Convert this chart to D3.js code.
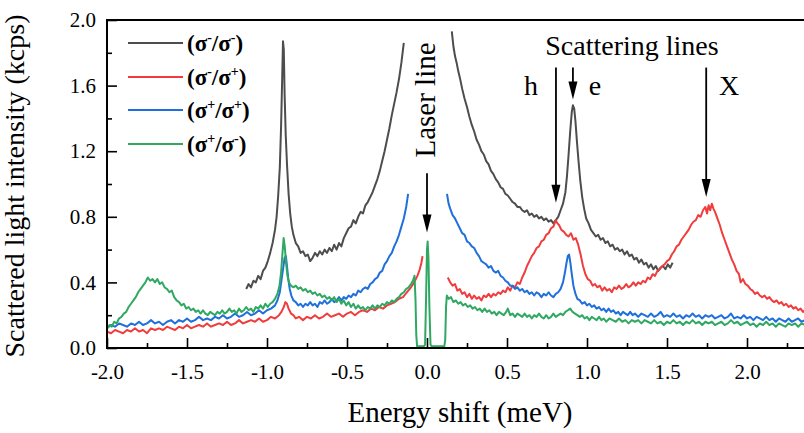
<!DOCTYPE html>
<html>
<head>
<meta charset="utf-8">
<script src="https://cdn.jsdelivr.net/npm/d3@7"></script>
<style>
  html, body { margin: 0; padding: 0; background: #fff; }
  svg { display: block; }
  text { font-family: "Liberation Serif", "Times New Roman", Times, serif; fill: #000; }
</style>
</head>
<body>
<svg id="chart" width="804" height="433"></svg>
<script>
// ---- spectra: [energy shift (meV), intensity (kcps)] ----
const grayLeft = [
  [-1.130,0.36],[-1.115,0.39],[-1.100,0.37],[-1.085,0.41],[-1.070,0.40],[-1.055,0.44],[-1.040,0.42],[-1.025,0.47],
  [-1.010,0.49],[-0.995,0.53],[-0.980,0.58],[-0.965,0.64],[-0.950,0.72],[-0.940,0.80],[-0.930,0.93],[-0.920,1.10],
  [-0.912,1.35],[-0.905,1.65],[-0.900,1.87],[-0.895,1.82],[-0.890,1.55],[-0.883,1.30],[-0.875,1.12],[-0.865,0.94],
  [-0.855,0.82],[-0.845,0.74],[-0.835,0.69],[-0.820,0.64],[-0.805,0.62],[-0.790,0.58],[-0.775,0.59],[-0.760,0.56],
  [-0.745,0.57],[-0.730,0.53],[-0.715,0.55],[-0.700,0.58],[-0.685,0.56],[-0.670,0.59],[-0.655,0.57],[-0.640,0.60],
  [-0.625,0.58],[-0.610,0.61],[-0.595,0.59],[-0.580,0.63],[-0.565,0.60],[-0.550,0.64],[-0.535,0.62],[-0.520,0.67],
  [-0.505,0.70],[-0.490,0.73],[-0.475,0.74],[-0.460,0.78],[-0.445,0.76],[-0.430,0.80],[-0.415,0.83],[-0.400,0.82],
  [-0.385,0.87],[-0.370,0.89],[-0.355,0.92],[-0.340,0.95],[-0.325,0.99],[-0.310,1.03],[-0.295,1.08],[-0.280,1.14],
  [-0.265,1.20],[-0.250,1.27],[-0.235,1.34],[-0.220,1.42],[-0.205,1.49],[-0.190,1.56],[-0.175,1.64],[-0.160,1.74],
  [-0.145,1.86]
];
const grayRight = [
  [0.155,1.93],[0.165,1.84],[0.175,1.78],[0.185,1.74],[0.195,1.69],[0.205,1.65],[0.220,1.58],[0.235,1.52],
  [0.250,1.47],[0.265,1.41],[0.280,1.36],[0.295,1.32],[0.310,1.27],[0.325,1.24],[0.340,1.20],[0.355,1.18],
  [0.370,1.14],[0.385,1.12],[0.400,1.08],[0.415,1.06],[0.430,1.03],[0.445,1.01],[0.460,0.98],[0.475,0.97],
  [0.490,0.94],[0.505,0.93],[0.520,0.91],[0.535,0.89],[0.550,0.88],[0.565,0.86],[0.580,0.86],[0.595,0.84],
  [0.610,0.83],[0.625,0.84],[0.640,0.81],[0.655,0.82],[0.670,0.80],[0.685,0.81],[0.700,0.79],[0.715,0.80],
  [0.730,0.78],[0.745,0.79],[0.760,0.77],[0.775,0.78],[0.790,0.76],[0.805,0.78],[0.820,0.80],[0.835,0.84],
  [0.850,0.88],[0.865,0.95],[0.875,1.05],[0.885,1.18],[0.895,1.32],[0.905,1.44],[0.912,1.48],[0.920,1.46],
  [0.928,1.38],[0.937,1.26],[0.947,1.14],[0.958,1.02],[0.970,0.92],[0.982,0.85],[0.995,0.79],[1.010,0.76],
  [1.025,0.72],[1.040,0.70],[1.055,0.68],[1.070,0.69],[1.085,0.66],[1.100,0.67],[1.115,0.64],[1.130,0.65],
  [1.145,0.62],[1.160,0.63],[1.175,0.60],[1.190,0.61],[1.205,0.59],[1.220,0.60],[1.235,0.57],[1.250,0.59],
  [1.265,0.56],[1.280,0.57],[1.295,0.54],[1.310,0.55],[1.325,0.52],[1.340,0.54],[1.355,0.51],[1.370,0.52],
  [1.385,0.49],[1.400,0.51],[1.415,0.48],[1.430,0.50],[1.445,0.47],[1.460,0.49],[1.475,0.50],[1.490,0.48],
  [1.505,0.51],[1.520,0.49],[1.535,0.52]
];
const redLeft = [
  [-2.000,0.10],[-1.975,0.09],[-1.950,0.11],[-1.925,0.10],[-1.900,0.09],[-1.875,0.11],[-1.850,0.10],[-1.825,0.12],
  [-1.800,0.10],[-1.775,0.11],[-1.750,0.09],[-1.725,0.12],[-1.700,0.11],[-1.675,0.12],[-1.650,0.11],[-1.625,0.13],
  [-1.600,0.12],[-1.575,0.11],[-1.550,0.13],[-1.525,0.12],[-1.500,0.14],[-1.475,0.12],[-1.450,0.13],[-1.425,0.14],
  [-1.400,0.13],[-1.375,0.15],[-1.350,0.13],[-1.325,0.14],[-1.300,0.15],[-1.275,0.14],[-1.250,0.16],[-1.225,0.14],
  [-1.200,0.15],[-1.175,0.17],[-1.150,0.15],[-1.125,0.16],[-1.100,0.17],[-1.075,0.16],[-1.050,0.18],[-1.025,0.16],
  [-1.000,0.17],[-0.975,0.19],[-0.950,0.18],[-0.925,0.20],[-0.910,0.22],[-0.895,0.25],[-0.885,0.28],[-0.875,0.27],
  [-0.865,0.24],[-0.850,0.21],[-0.835,0.20],[-0.820,0.18],[-0.800,0.19],[-0.775,0.17],[-0.750,0.19],[-0.725,0.18],
  [-0.700,0.20],[-0.675,0.18],[-0.650,0.19],[-0.625,0.21],[-0.600,0.19],[-0.575,0.20],[-0.550,0.21],[-0.525,0.19],
  [-0.500,0.21],[-0.475,0.22],[-0.450,0.20],[-0.425,0.22],[-0.400,0.23],[-0.375,0.22],[-0.350,0.24],[-0.325,0.23],
  [-0.300,0.25],[-0.275,0.24],[-0.250,0.26],[-0.225,0.27],[-0.200,0.28],[-0.175,0.30],[-0.150,0.31],[-0.125,0.34],
  [-0.100,0.37],[-0.080,0.40],[-0.060,0.44],[-0.045,0.48],[-0.035,0.52],[-0.028,0.56]
];
const redRight = [
  [0.130,0.43],[0.145,0.40],[0.160,0.38],[0.175,0.39],[0.190,0.35],[0.205,0.36],[0.220,0.33],[0.235,0.34],
  [0.250,0.31],[0.265,0.33],[0.280,0.30],[0.295,0.32],[0.310,0.30],[0.325,0.31],[0.340,0.29],[0.355,0.32],
  [0.370,0.31],[0.385,0.33],[0.400,0.31],[0.415,0.33],[0.430,0.32],[0.445,0.34],[0.460,0.33],[0.475,0.35],
  [0.490,0.34],[0.505,0.37],[0.520,0.35],[0.535,0.38],[0.550,0.37],[0.565,0.40],[0.580,0.39],[0.595,0.43],
  [0.610,0.46],[0.625,0.50],[0.640,0.53],[0.655,0.56],[0.670,0.58],[0.685,0.61],[0.700,0.62],[0.715,0.65],
  [0.730,0.66],[0.745,0.69],[0.760,0.70],[0.775,0.73],[0.790,0.74],[0.805,0.78],[0.815,0.76],[0.825,0.75],
  [0.840,0.72],[0.855,0.71],[0.870,0.69],[0.885,0.68],[0.900,0.70],[0.915,0.66],[0.930,0.67],[0.945,0.63],
  [0.960,0.57],[0.975,0.50],[0.990,0.45],[1.005,0.42],[1.020,0.41],[1.035,0.38],[1.050,0.39],[1.065,0.37],
  [1.080,0.38],[1.095,0.35],[1.110,0.37],[1.125,0.35],[1.140,0.36],[1.155,0.34],[1.170,0.37],[1.185,0.36],
  [1.200,0.38],[1.215,0.36],[1.230,0.37],[1.245,0.39],[1.260,0.37],[1.275,0.38],[1.290,0.40],[1.305,0.38],
  [1.320,0.40],[1.335,0.39],[1.350,0.41],[1.365,0.40],[1.380,0.43],[1.395,0.42],[1.410,0.45],[1.425,0.44],
  [1.440,0.47],[1.455,0.48],[1.470,0.50],[1.485,0.51],[1.500,0.53],[1.515,0.54],[1.530,0.57],[1.545,0.59],
  [1.560,0.62],[1.575,0.63],[1.590,0.66],[1.605,0.68],[1.620,0.70],[1.635,0.72],[1.650,0.75],[1.665,0.77],
  [1.680,0.78],[1.695,0.81],[1.710,0.80],[1.725,0.84],[1.740,0.86],[1.750,0.82],[1.760,0.87],[1.770,0.84],
  [1.780,0.88],[1.790,0.85],[1.800,0.83],[1.815,0.79],[1.830,0.75],[1.845,0.70],[1.860,0.66],[1.875,0.62],
  [1.890,0.58],[1.905,0.54],[1.920,0.51],[1.935,0.47],[1.950,0.45],[1.960,0.40],[1.975,0.42],[1.990,0.39],
  [2.005,0.38],[2.020,0.36],[2.035,0.35],[2.050,0.33],[2.065,0.34],[2.080,0.32],[2.095,0.31],[2.110,0.32],
  [2.125,0.30],[2.140,0.31],[2.155,0.29],[2.170,0.28],[2.185,0.29],[2.200,0.27],[2.215,0.28],[2.230,0.26],
  [2.245,0.27],[2.260,0.25],[2.275,0.26],[2.290,0.24],[2.305,0.25],[2.320,0.23],[2.335,0.24],[2.350,0.22],
  [2.365,0.23]
];
const blueLeft = [
  [-2.000,0.12],[-1.975,0.14],[-1.950,0.13],[-1.925,0.15],[-1.900,0.14],[-1.875,0.13],[-1.850,0.15],[-1.825,0.14],
  [-1.800,0.16],[-1.775,0.14],[-1.750,0.15],[-1.725,0.17],[-1.700,0.15],[-1.675,0.16],[-1.650,0.14],[-1.625,0.16],
  [-1.600,0.17],[-1.575,0.15],[-1.550,0.17],[-1.525,0.16],[-1.500,0.18],[-1.475,0.16],[-1.450,0.17],[-1.425,0.19],
  [-1.400,0.17],[-1.375,0.18],[-1.350,0.17],[-1.325,0.19],[-1.300,0.18],[-1.275,0.20],[-1.250,0.18],[-1.225,0.19],
  [-1.200,0.21],[-1.175,0.19],[-1.150,0.20],[-1.125,0.22],[-1.100,0.20],[-1.075,0.21],[-1.050,0.23],[-1.025,0.21],
  [-1.000,0.23],[-0.975,0.24],[-0.950,0.26],[-0.935,0.29],[-0.920,0.34],[-0.910,0.41],[-0.900,0.48],[-0.890,0.55],
  [-0.882,0.56],[-0.875,0.50],[-0.867,0.42],[-0.858,0.36],[-0.848,0.32],[-0.835,0.29],[-0.820,0.28],[-0.805,0.26],
  [-0.790,0.27],[-0.775,0.25],[-0.760,0.27],[-0.745,0.26],[-0.730,0.28],[-0.715,0.26],[-0.700,0.27],[-0.685,0.25],
  [-0.670,0.28],[-0.655,0.27],[-0.640,0.29],[-0.625,0.27],[-0.610,0.28],[-0.595,0.30],[-0.580,0.28],[-0.565,0.29],
  [-0.550,0.31],[-0.535,0.29],[-0.520,0.31],[-0.505,0.30],[-0.490,0.32],[-0.475,0.31],[-0.460,0.33],[-0.445,0.32],
  [-0.430,0.35],[-0.415,0.34],[-0.400,0.36],[-0.385,0.37],[-0.370,0.36],[-0.355,0.39],[-0.340,0.40],[-0.325,0.42],
  [-0.310,0.43],[-0.295,0.46],[-0.280,0.47],[-0.265,0.51],[-0.250,0.53],[-0.235,0.56],[-0.220,0.58],[-0.205,0.62],
  [-0.190,0.65],[-0.175,0.69],[-0.160,0.74],[-0.145,0.79],[-0.130,0.86],[-0.118,0.94]
];
const blueRight = [
  [0.125,0.94],[0.135,0.88],[0.145,0.85],[0.160,0.81],[0.175,0.79],[0.190,0.76],[0.205,0.73],[0.220,0.70],
  [0.235,0.69],[0.250,0.65],[0.265,0.64],[0.280,0.62],[0.295,0.61],[0.310,0.58],[0.325,0.56],[0.340,0.53],
  [0.355,0.52],[0.370,0.51],[0.385,0.49],[0.400,0.50],[0.415,0.47],[0.430,0.46],[0.445,0.47],[0.460,0.44],
  [0.475,0.43],[0.490,0.41],[0.505,0.40],[0.520,0.38],[0.535,0.38],[0.550,0.36],[0.565,0.37],[0.580,0.35],
  [0.595,0.36],[0.610,0.34],[0.625,0.35],[0.640,0.33],[0.655,0.34],[0.670,0.32],[0.685,0.34],[0.700,0.33],
  [0.715,0.31],[0.730,0.33],[0.745,0.32],[0.760,0.34],[0.775,0.32],[0.790,0.31],[0.805,0.33],[0.820,0.34],
  [0.835,0.36],[0.850,0.40],[0.862,0.46],[0.872,0.52],[0.880,0.56],[0.888,0.57],[0.896,0.52],[0.905,0.45],
  [0.915,0.38],[0.928,0.33],[0.940,0.30],[0.955,0.29],[0.970,0.27],[0.985,0.28],[1.000,0.26],[1.015,0.27],
  [1.030,0.25],[1.045,0.26],[1.060,0.24],[1.075,0.25],[1.090,0.23],[1.105,0.24],[1.120,0.22],[1.135,0.24],
  [1.150,0.22],[1.165,0.23],[1.180,0.21],[1.195,0.22],[1.210,0.20],[1.225,0.22],[1.240,0.21],[1.255,0.20],
  [1.270,0.22],[1.285,0.20],[1.300,0.21],[1.320,0.19],[1.340,0.21],[1.360,0.20],[1.380,0.19],[1.400,0.21],
  [1.420,0.19],[1.440,0.20],[1.460,0.22],[1.480,0.19],[1.500,0.20],[1.520,0.19],[1.540,0.21],[1.560,0.19],
  [1.580,0.20],[1.600,0.18],[1.620,0.20],[1.640,0.19],[1.660,0.21],[1.680,0.19],[1.700,0.20],[1.720,0.18],
  [1.740,0.20],[1.760,0.19],[1.780,0.20],[1.800,0.18],[1.820,0.19],[1.840,0.20],[1.860,0.18],[1.880,0.19],
  [1.900,0.21],[1.920,0.18],[1.940,0.19],[1.960,0.18],[1.980,0.20],[2.000,0.18],[2.020,0.19],[2.040,0.17],
  [2.060,0.19],[2.080,0.18],[2.100,0.17],[2.120,0.19],[2.140,0.17],[2.160,0.18],[2.180,0.16],[2.200,0.18],
  [2.220,0.17],[2.240,0.16],[2.260,0.18],[2.280,0.16],[2.300,0.17],[2.320,0.18],[2.340,0.16],[2.365,0.17]
];
const greenAll = [
  [-2.000,0.12],[-1.985,0.14],[-1.970,0.13],[-1.955,0.16],[-1.940,0.15],[-1.925,0.18],[-1.910,0.19],[-1.895,0.21],
  [-1.880,0.22],[-1.865,0.25],[-1.850,0.27],[-1.835,0.29],[-1.820,0.31],[-1.805,0.34],[-1.790,0.36],[-1.775,0.38],
  [-1.760,0.40],[-1.745,0.43],[-1.730,0.41],[-1.715,0.42],[-1.700,0.40],[-1.685,0.42],[-1.670,0.39],[-1.655,0.40],
  [-1.640,0.37],[-1.625,0.36],[-1.610,0.34],[-1.595,0.35],[-1.580,0.31],[-1.565,0.29],[-1.550,0.28],[-1.535,0.26],
  [-1.520,0.27],[-1.505,0.24],[-1.490,0.25],[-1.475,0.23],[-1.460,0.24],[-1.445,0.22],[-1.430,0.23],[-1.415,0.21],
  [-1.400,0.23],[-1.385,0.21],[-1.370,0.20],[-1.355,0.22],[-1.340,0.21],[-1.325,0.20],[-1.310,0.22],[-1.295,0.21],
  [-1.280,0.23],[-1.265,0.21],[-1.250,0.22],[-1.235,0.24],[-1.220,0.22],[-1.205,0.23],[-1.190,0.21],[-1.175,0.24],
  [-1.160,0.22],[-1.145,0.23],[-1.130,0.25],[-1.115,0.23],[-1.100,0.24],[-1.085,0.22],[-1.070,0.25],[-1.055,0.24],
  [-1.040,0.26],[-1.025,0.24],[-1.010,0.27],[-0.995,0.25],[-0.980,0.27],[-0.965,0.28],[-0.950,0.30],[-0.935,0.33],
  [-0.922,0.38],[-0.912,0.46],[-0.903,0.58],[-0.896,0.67],[-0.889,0.62],[-0.881,0.52],[-0.872,0.44],[-0.862,0.40],
  [-0.850,0.38],[-0.835,0.37],[-0.820,0.38],[-0.805,0.36],[-0.790,0.37],[-0.775,0.35],[-0.760,0.36],[-0.745,0.34],
  [-0.730,0.35],[-0.715,0.33],[-0.700,0.34],[-0.685,0.32],[-0.670,0.33],[-0.655,0.31],[-0.640,0.32],[-0.625,0.30],
  [-0.610,0.31],[-0.595,0.29],[-0.580,0.31],[-0.565,0.28],[-0.550,0.30],[-0.535,0.27],[-0.520,0.29],[-0.505,0.26],
  [-0.490,0.28],[-0.475,0.25],[-0.460,0.27],[-0.445,0.24],[-0.430,0.26],[-0.415,0.24],[-0.400,0.25],[-0.385,0.23],
  [-0.370,0.25],[-0.355,0.24],[-0.340,0.26],[-0.325,0.24],[-0.310,0.26],[-0.295,0.25],[-0.280,0.27],[-0.265,0.26],
  [-0.250,0.28],[-0.235,0.27],[-0.220,0.29],[-0.205,0.28],[-0.190,0.30],[-0.175,0.31],[-0.160,0.33],[-0.145,0.34],
  [-0.130,0.36],[-0.115,0.37],[-0.100,0.39],[-0.088,0.41],[-0.078,0.44],[-0.072,0.30],[-0.067,0.08],[-0.062,0.01],
  [-0.040,0.01],[-0.020,0.01],[-0.012,0.02],[-0.007,0.25],[0.000,0.60],[0.004,0.65],[0.009,0.55],[0.015,0.25],
  [0.022,0.02],[0.030,0.01],[0.060,0.01],[0.090,0.01],[0.108,0.01],[0.114,0.05],[0.119,0.25],[0.124,0.32],
  [0.135,0.30],[0.150,0.31],[0.165,0.28],[0.180,0.29],[0.195,0.27],[0.210,0.28],[0.225,0.26],[0.240,0.27],
  [0.255,0.25],[0.270,0.26],[0.285,0.24],[0.300,0.25],[0.315,0.23],[0.330,0.24],[0.345,0.22],[0.360,0.24],
  [0.375,0.22],[0.390,0.23],[0.405,0.21],[0.420,0.22],[0.435,0.20],[0.450,0.22],[0.465,0.21],[0.480,0.20],
  [0.495,0.22],[0.505,0.24],[0.520,0.20],[0.535,0.21],[0.550,0.19],[0.565,0.21],[0.580,0.20],[0.595,0.19],
  [0.610,0.21],[0.625,0.19],[0.640,0.20],[0.655,0.18],[0.670,0.20],[0.685,0.19],[0.700,0.21],[0.715,0.19],
  [0.730,0.18],[0.745,0.20],[0.760,0.18],[0.775,0.19],[0.790,0.21],[0.805,0.19],[0.820,0.20],[0.835,0.21],
  [0.850,0.20],[0.865,0.22],[0.880,0.23],[0.895,0.24],[0.910,0.22],[0.925,0.21],[0.940,0.20],[0.955,0.19],
  [0.970,0.20],[0.985,0.18],[1.000,0.19],[1.015,0.17],[1.030,0.19],[1.045,0.18],[1.060,0.17],[1.075,0.19],
  [1.090,0.17],[1.105,0.18],[1.120,0.16],[1.140,0.18],[1.160,0.17],[1.180,0.16],[1.200,0.18],[1.220,0.16],
  [1.240,0.17],[1.260,0.15],[1.280,0.17],[1.300,0.16],[1.320,0.17],[1.340,0.15],[1.360,0.17],[1.380,0.16],
  [1.400,0.15],[1.420,0.17],[1.440,0.15],[1.460,0.16],[1.480,0.14],[1.500,0.16],[1.520,0.15],[1.540,0.17],
  [1.560,0.15],[1.580,0.16],[1.600,0.14],[1.620,0.16],[1.640,0.15],[1.660,0.17],[1.680,0.15],[1.700,0.16],
  [1.720,0.14],[1.740,0.16],[1.760,0.15],[1.780,0.16],[1.800,0.14],[1.820,0.15],[1.840,0.16],[1.860,0.14],
  [1.880,0.15],[1.900,0.17],[1.920,0.15],[1.940,0.16],[1.960,0.14],[1.980,0.15],[2.000,0.16],[2.020,0.14],
  [2.040,0.15],[2.060,0.13],[2.080,0.15],[2.100,0.14],[2.120,0.16],[2.140,0.14],[2.160,0.15],[2.180,0.13],
  [2.200,0.15],[2.220,0.14],[2.240,0.13],[2.260,0.15],[2.280,0.14],[2.300,0.15],[2.320,0.13],[2.340,0.15],
  [2.365,0.14]
];

// ---- series definitions (legend order = drawing order) ----
const seriesSigns  = [["-","-"], ["-","+"], ["+","+"], ["+","-"]];
const seriesColors = ["#4d4d4d", "#f03c3c", "#1f6fdc", "#2fa862"];
const seriesParts  = [[grayLeft, grayRight], [redLeft, redRight], [blueLeft, blueRight], [greenAll]];

// ---- axis ticks ----
const xMajorTicks = [-2.0, -1.5, -1.0, -0.5, 0.0, 0.5, 1.0, 1.5, 2.0];
const xMinorTicks = [-1.75, -1.25, -0.75, -0.25, 0.25, 0.75, 1.25, 1.75, 2.25];
const yMajorTicks = [0.0, 0.4, 0.8, 1.2, 1.6, 2.0];
const yMinorTicks = [0.2, 0.6, 1.0, 1.4, 1.8];

// ---- annotation arrows: x position, top and tip (data units) ----
const arrowLabels = ["Laser line", "h", "e", "X"];
const arrowX      = [0.0, 0.806, 0.912, 1.745];
const arrowTop    = [1.065, 1.71, 1.71, 1.71];
const arrowTip    = [0.705, 0.885, 1.515, 0.92];

const SERIF = '"Liberation Serif", "Times New Roman", Times, serif';

const svg = d3.select("#chart");
const margin = { left: 107, top: 20, bottom: 348 };
const xMin = -2.0, xMax = 2.3625;

const x = d3.scaleLinear().domain([xMin, xMax]).range([margin.left, margin.left + (xMax - xMin) * 160]);
const y = d3.scaleLinear().domain([0, 2]).range([margin.bottom, margin.top]);

// clip plotting area
svg.append("defs").append("clipPath").attr("id", "plotClip")
  .append("rect").attr("x", x(xMin)).attr("y", y(2)).attr("width", x(xMax) - x(xMin)).attr("height", y(0) - y(2));

// ---- spectra ----
const line = d3.line().x(d => x(d[0])).y(d => y(d[1]));
const plot = svg.append("g").attr("clip-path", "url(#plotClip)");
seriesParts.forEach((parts, i) => {
  parts.forEach(part => {
    plot.append("path")
      .datum(part)
      .attr("d", line)
      .attr("fill", "none")
      .attr("stroke", seriesColors[i])
      .attr("stroke-width", 2)
      .attr("stroke-linejoin", "round");
  });
});

// ---- axes ----
const fmt = d => d.toFixed(1);
const styleAxis = g => {
  g.attr("font-family", SERIF).attr("font-size", 21);
  g.select(".domain").remove();
  g.selectAll(".tick line").attr("stroke", "#000").attr("stroke-width", 1.6);
  g.selectAll(".tick text").attr("fill", "#000");
};

svg.append("g").attr("transform", `translate(0,${y(0)})`)
  .call(d3.axisBottom(x).tickValues(xMinorTicks).tickSize(-5).tickFormat(""))
  .call(styleAxis);
svg.append("g").attr("transform", `translate(0,${y(0)})`)
  .call(d3.axisBottom(x).tickValues(xMajorTicks).tickSize(-10).tickPadding(16).tickFormat(fmt))
  .call(styleAxis);
svg.append("g").attr("transform", `translate(${x(xMin)},0)`)
  .call(d3.axisLeft(y).tickValues(yMinorTicks).tickSize(-5).tickFormat(""))
  .call(styleAxis);
svg.append("g").attr("transform", `translate(${x(xMin)},0)`)
  .call(d3.axisLeft(y).tickValues(yMajorTicks).tickSize(-10).tickPadding(11).tickFormat(fmt))
  .call(styleAxis);

// frame
const frame = svg.append("g").attr("stroke", "#000").attr("stroke-width", 2).attr("fill", "none");
frame.append("line").attr("x1", x(xMin)).attr("x2", x(xMin)).attr("y1", y(2) - 1).attr("y2", y(0) + 1);
frame.append("line").attr("x1", x(xMin) - 1).attr("x2", 804).attr("y1", y(0)).attr("y2", y(0));
frame.append("line").attr("x1", x(xMin) - 1).attr("x2", 804).attr("y1", y(2)).attr("y2", y(2));

// axis titles
svg.append("text")
  .attr("x", 460).attr("y", 422)
  .attr("text-anchor", "middle")
  .attr("font-family", SERIF).attr("font-size", 29)
  .text("Energy shift (meV)");
svg.append("text")
  .attr("transform", "translate(24,186) rotate(-90)")
  .attr("text-anchor", "middle")
  .attr("font-family", SERIF).attr("font-size", 28)
  .text("Scattered light intensity (kcps)");

// ---- legend ----
const legend = svg.append("g").attr("font-family", SERIF);
const rowY = [43, 77, 110, 144];
seriesSigns.forEach((s, i) => {
  legend.append("line")
    .attr("x1", 128).attr("x2", 183).attr("y1", rowY[i]).attr("y2", rowY[i])
    .attr("stroke", seriesColors[i]).attr("stroke-width", 2.2);
  const t = legend.append("text")
    .attr("x", 187).attr("y", rowY[i] + 8)
    .attr("font-size", 23).attr("font-weight", "bold");
  t.append("tspan").text("(σ");
  t.append("tspan").attr("dy", -9).attr("font-size", 14).text(s[0]);
  t.append("tspan").attr("dy", 9).text("/σ");
  t.append("tspan").attr("dy", -9).attr("font-size", 14).text(s[1]);
  t.append("tspan").attr("dy", 9).text(")");
});

// ---- annotations ----
const ann = svg.append("g").attr("font-family", SERIF);
arrowX.forEach((ax, i) => {
  const px = x(ax), y0 = y(arrowTop[i]), y1 = y(arrowTip[i]);
  const headLen = 18, headHalf = 4.5;
  ann.append("line")
    .attr("x1", px).attr("x2", px).attr("y1", y0).attr("y2", y1 - headLen + 2)
    .attr("stroke", "#000").attr("stroke-width", 1.8);
  ann.append("path")
    .attr("d", `M${px - headHalf},${y1 - headLen} L${px + headHalf},${y1 - headLen} L${px},${y1} Z`)
    .attr("fill", "#000");
});

ann.append("text")
  .attr("transform", `translate(${x(arrowX[0]) + 8},100) rotate(-90)`)
  .attr("text-anchor", "middle")
  .attr("font-size", 29)
  .text(arrowLabels[0]);
ann.append("text").attr("x", 632).attr("y", 55).attr("text-anchor", "middle")
  .attr("font-size", 28).text("Scattering lines");
ann.append("text").attr("x", 531).attr("y", 95).attr("text-anchor", "middle")
  .attr("font-size", 28).text(arrowLabels[1]);
ann.append("text").attr("x", 595).attr("y", 95).attr("text-anchor", "middle")
  .attr("font-size", 28).text(arrowLabels[2]);
ann.append("text").attr("x", 729).attr("y", 95).attr("text-anchor", "middle")
  .attr("font-size", 28).text(arrowLabels[3]);
</script>
</body>
</html>
